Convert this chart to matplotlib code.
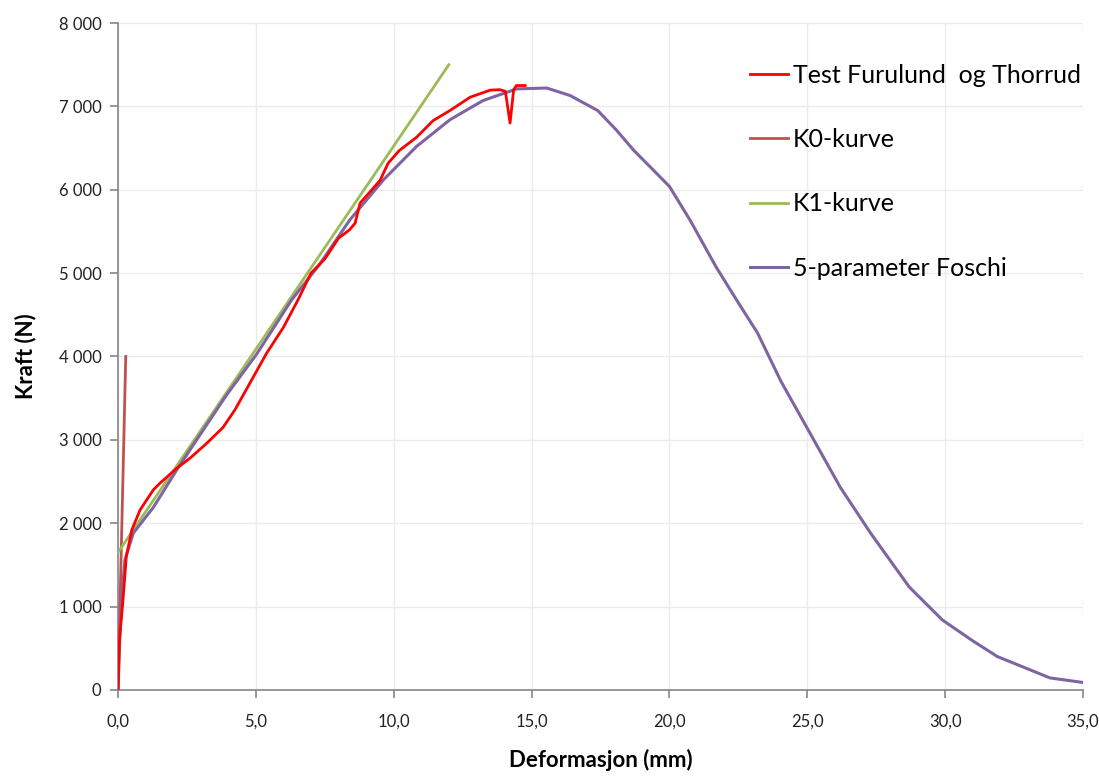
import matplotlib
matplotlib.use("Agg")
import matplotlib.pyplot as plt
from matplotlib.ticker import FuncFormatter, MultipleLocator

plt.rcParams["font.family"] = ["Lato", "DejaVu Sans"]

# ── Data ──────────────────────────────────────────────────────────────────────
test_x = [0.0, 0.05, 0.18, 0.3, 0.5, 0.8, 1.28, 1.52, 2.13, 2.61, 3.22, 3.81, 4.24,
          4.9, 5.39, 6.0, 6.53, 7.0, 7.5, 8.0, 8.4, 8.6, 8.78, 9.5, 9.8, 10.2,
          10.83, 11.43, 12.04, 12.77, 13.5, 13.86, 14.05, 14.22, 14.35, 14.45, 14.77]
test_y = [0, 600, 1080, 1600, 1920, 2160, 2400, 2480, 2660, 2780, 2960, 3150, 3360,
          3750, 4040, 4350, 4680, 5000, 5170, 5420, 5520, 5600, 5840, 6110, 6320, 6470,
          6630, 6830, 6950, 7110, 7195, 7200, 7180, 6800, 7200, 7250, 7250]

k0_x = [0.0, 0.28]
k0_y = [0, 4000]

k1_x = [0.0, 12.0]
k1_y = [1650, 7500]

foschi_x = [0.0, 0.05, 0.13, 0.25, 0.55, 1.28, 2.13, 2.85, 3.94, 5.03, 6.3, 7.3,
            8.41, 9.63, 10.83, 12.04, 13.24, 14.46, 15.55, 16.4, 17.4, 18.08, 18.7,
            19.3, 20.0, 20.75, 21.7, 22.44, 23.2, 24.05, 25.1, 26.2, 27.3, 28.7,
            29.9, 31.0, 31.9, 32.5, 33.8, 35.0]
foschi_y = [0, 500, 1080, 1560, 1880, 2190, 2640, 3000, 3540, 4030, 4680, 5100,
            5640, 6120, 6520, 6840, 7070, 7210, 7220, 7130, 6950, 6715, 6475,
            6275, 6040, 5635, 5070, 4676, 4280, 3700, 3080, 2430, 1880, 1235,
            840, 590, 400, 320, 145, 90]

# ── Figure ────────────────────────────────────────────────────────────────────
fig = plt.figure(figsize=(10.99, 7.8), dpi=100)
ax = fig.add_axes([0.1074, 0.1154, 0.878, 0.8551])

ax.plot(test_x, test_y, color="#FF0000", lw=2.0, label="Test Furulund  og Thorrud", zorder=4)
ax.plot(k0_x, k0_y, color="#C0504D", lw=2.0, label="K0-kurve", zorder=3)
ax.plot(k1_x, k1_y, color="#9BBB59", lw=2.0, label="K1-kurve", zorder=3)
ax.plot(foschi_x, foschi_y, color="#8064A2", lw=2.2, label="5-parameter Foschi", zorder=3)

ax.set_xlim(0, 35)
ax.set_ylim(0, 8000)
ax.xaxis.set_major_locator(MultipleLocator(5))
ax.yaxis.set_major_locator(MultipleLocator(1000))
ax.xaxis.set_major_formatter(FuncFormatter(lambda v, p: f"{v:.1f}".replace(".", ",")))
ax.yaxis.set_major_formatter(FuncFormatter(lambda v, p: f"{int(v):,}".replace(",", " ")))

ax.grid(True, color="#EBEBEB", lw=1.0, zorder=0)
ax.set_axisbelow(True)
for side in ("top", "right"):
    ax.spines[side].set_visible(False)
for side in ("left", "bottom"):
    ax.spines[side].set_color("#868686")
    ax.spines[side].set_linewidth(1.2)
ax.tick_params(axis="both", direction="out", length=6, width=1.2, color="#868686",
               labelsize=12, labelcolor="#222222")
ax.tick_params(axis="x", pad=11)
ax.tick_params(axis="y", pad=6)

ax.set_xlabel("Deformasjon (mm)", fontsize=16, fontweight="bold", labelpad=14)
ax.set_ylabel("Kraft (N)", fontsize=16, fontweight="bold", labelpad=16)

fig.legend(loc="upper left", bbox_to_anchor=(0.662, 0.947), frameon=False,
           fontsize=18, handlelength=1.52, handletextpad=0.2, labelspacing=1.65)

fig.savefig("out.png", dpi=100)
